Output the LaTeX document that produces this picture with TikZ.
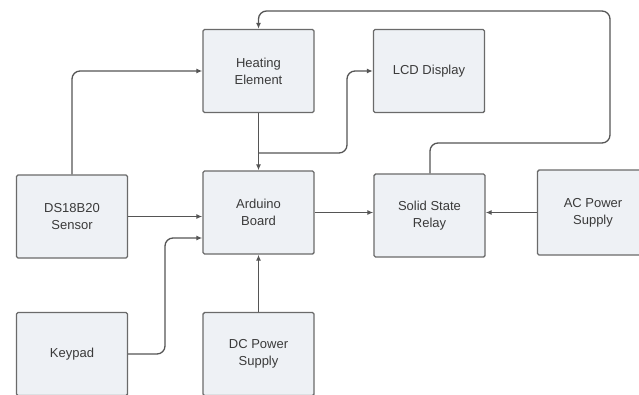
\documentclass[tikz,border=0pt]{standalone}
\usepackage{fontspec}
\setmainfont{Liberation Sans}
\usetikzlibrary{arrows.meta}
\definecolor{boxfill}{HTML}{EEF1F5}
\definecolor{boxline}{HTML}{6A6A6A}
\definecolor{wire}{HTML}{555555}
\definecolor{txt}{HTML}{3A3A3A}
\begin{document}
\begin{tikzpicture}[x=1pt,y=-1pt,
  blk/.style={draw=boxline,fill=boxfill,line width=1.4pt,rounded corners=1.5pt,
    minimum width=111pt,minimum height=83pt,align=center,text=txt,
    font=\fontsize{13}{17}\selectfont,inner sep=0pt},
  wire/.style={draw=wire,line width=1.3pt,rounded corners=8pt,
    -{Latex[length=6pt,width=5pt]}},
  plain/.style={draw=wire,line width=1.3pt,rounded corners=8pt}]
\useasboundingbox (0,0) rectangle (639,394);
\node[blk] (heat) at (258.5,71) {Heating\\Element};
\node[blk] (lcd) at (429,71) {LCD Display};
\node[blk] (sensor) at (72,216.5) {DS18B20\\Sensor};
\node[blk] (ard) at (258.5,212.5) {Arduino\\Board};
\node[blk] (ssr) at (429.5,215.5) {Solid State\\Relay};
\node[blk,minimum height=85pt] (ac) at (593,212.5) {AC Power\\Supply};
\node[blk] (key) at (72,354) {Keypad};
\node[blk] (dc) at (258.5,354) {DC Power\\Supply};
\coordinate (j) at (258.5,153);
\draw[wire] (sensor.north) |- (heat.west);
\draw[wire] (sensor.east) -- (sensor.east -| ard.west);
\draw[wire] (key.east) -- (165,354) -- (165,238) -- (ard.west |- 0,238);
\draw[wire] (dc.north) -- (ard.south);
\draw[wire] (heat.south) -- (ard.north);
\draw[wire] (j) -- (347,153) -- (347,71) -- (lcd.west);
\draw[wire] (ard.east) -- (ssr.west |- ard.east);
\draw[wire] (ac.west) -- (ssr.east |- ac.west);
\draw[wire] (ssr.north -| 430,0) -- (430,143) -- (610,143) -- (610,11) -- (258.5,11) -- (heat.north);
\end{tikzpicture}
\end{document}
